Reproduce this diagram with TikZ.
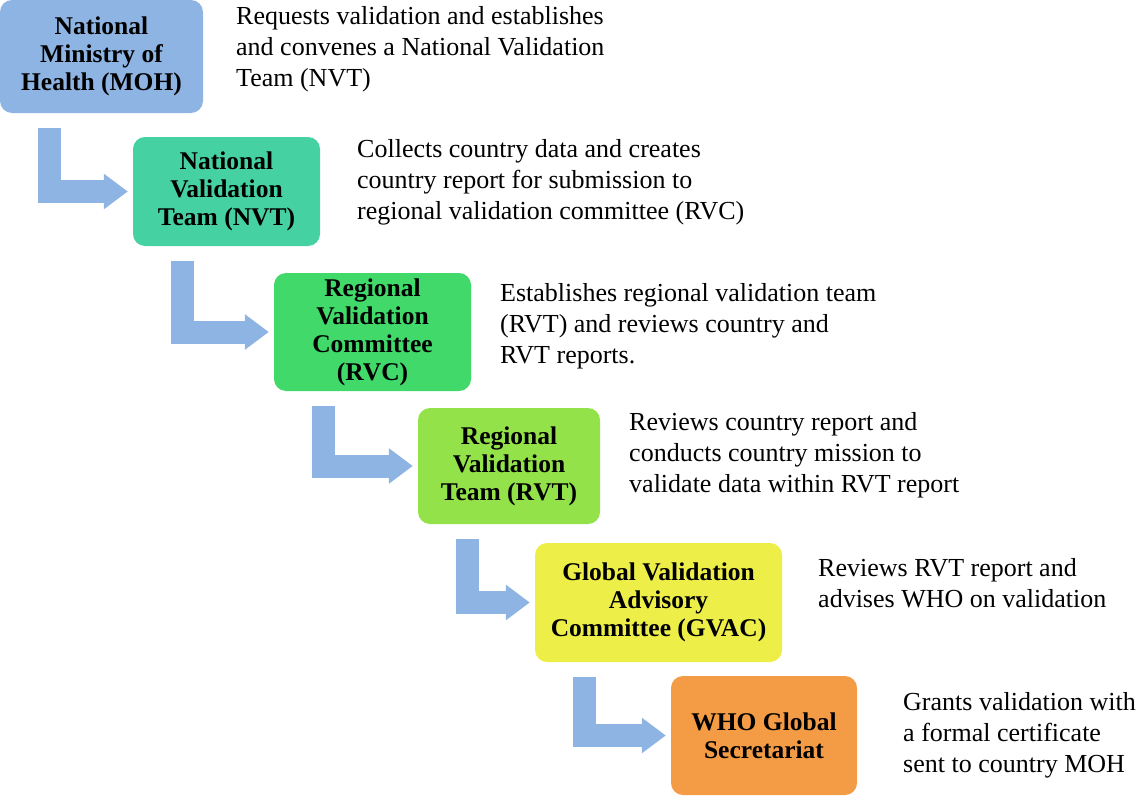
\documentclass[tikz,border=0pt]{standalone}
\usepackage{fontspec}
\setmainfont{Liberation Serif}
\usetikzlibrary{arrows.meta,calc}
\definecolor{mohblue}{HTML}{8EB4E3}
\definecolor{nvtteal}{HTML}{45D1A2}
\definecolor{rvcgreen}{HTML}{40D96A}
\definecolor{rvtgreen}{HTML}{93E24A}
\definecolor{gvacyellow}{HTML}{EEEE48}
\definecolor{whoorange}{HTML}{F39C45}
\tikzset{
  stage/.style={rounded corners=12pt,inner sep=2pt,align=center,
    font=\fontsize{25.5}{28}\selectfont\bfseries},
  note/.style={anchor=north west,align=left,inner sep=0pt,
    font=\fontsize{26}{31}\selectfont},
  flow/.style={line width=23pt,color=mohblue,line join=miter,shorten >=5pt,
    -{Triangle[length=24pt,width=34pt]}}
}
\begin{document}
\begin{tikzpicture}[x=1pt,y=-1pt]
\useasboundingbox (0,0) rectangle (1142,800);
% stages
\node[stage,fill=mohblue,minimum width=203pt,minimum height=113pt] (moh) at (101.5,56.5) {National\\Ministry of\\Health (MOH)};
\node[stage,fill=nvtteal,minimum width=187pt,minimum height=109pt] (nvt) at (226.5,191.5) {National\\Validation\\Team (NVT)};
\node[stage,fill=rvcgreen,minimum width=197pt,minimum height=118pt] (rvc) at (372.5,332) {Regional\\Validation\\Committee\\(RVC)};
\node[stage,fill=rvtgreen,minimum width=182pt,minimum height=116pt] (rvt) at (509,466) {Regional\\Validation\\Team (RVT)};
\node[stage,fill=gvacyellow,minimum width=247pt,minimum height=119pt] (gvac) at (658.5,602.5) {Global Validation\\Advisory\\Committee (GVAC)};
\node[stage,fill=whoorange,minimum width=186pt,minimum height=119pt] (who) at (764,735.5) {WHO Global\\Secretariat};
% descriptions
\node[note] (mohtxt) at (236,6) {Requests validation and establishes\\and convenes a National Validation\\Team (NVT)};
\node[note] (nvttxt) at (357,139) {Collects country data and creates\\country report for submission to\\regional validation committee (RVC)};
\node[note] (rvctxt) at (500,283) {Establishes regional validation team\\(RVT) and reviews country and\\RVT reports.};
\node[note] (rvttxt) at (629,412) {Reviews country report and\\conducts country mission to\\validate data within RVT report};
\node[note] (gvactxt) at (818,558) {Reviews RVT report and\\advises WHO on validation};
\node[note] (whotxt) at (903,692) {Grants validation with\\a formal certificate\\sent to country MOH};
% arrows
\foreach \a/\b in {moh/nvt,nvt/rvc,rvc/rvt,rvt/gvac,gvac/who}
  \draw[flow] ($(\a.south west)+(50,15)$) |- (\b.west);
\end{tikzpicture}
\end{document}
